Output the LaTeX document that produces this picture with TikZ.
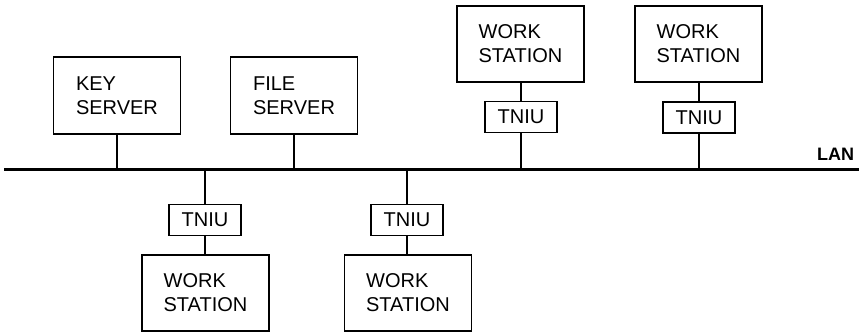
\documentclass[tikz,border=0pt]{standalone}
\usepackage{fontspec}
\setmainfont{Liberation Sans}
\usetikzlibrary{calc}
\tikzset{
  every picture/.style={x=1pt, y=-1pt, line width=2pt},
  unit/.style={draw, line width=1.8pt, align=left, inner sep=0pt, minimum width=127pt, minimum height=#1, font=\fontsize{20}{24}\selectfont},
  unit/.default=77pt,
  tniu/.style={draw, line width=1.6pt, inner sep=0pt, minimum width=72pt, minimum height=31pt, font=\fontsize{20}{24}\selectfont},
  stub/.style={line width=2.6pt},
  lan/.style={line width=3pt},
  lanlabel/.style={font=\fontsize{18}{20}\selectfont\bfseries, inner sep=0pt, anchor=south east},
}
\begin{document}
\begin{tikzpicture}
  \useasboundingbox (0,0) rectangle (859,332);
  \coordinate (lanL) at (4,169.5);
  \coordinate (lanR) at (859,169.5);
  \draw[lan] (lanL) -- (lanR);
  \node[lanlabel] (lanname) at (855,161) {LAN};

  \node[unit] (key) at (117,95.5) {KEY\\SERVER};
  \node[unit] (file) at (294,95.5) {FILE\\SERVER};

  \node[unit=76pt] (wsA) at (520.5,44) {WORK\\STATION};
  \node[tniu] (tniuA) at (521,117) {TNIU};
  \node[unit=76pt] (wsB) at (698.5,44) {WORK\\STATION};
  \node[tniu] (tniuB) at (699,117.5) {TNIU};

  \node[tniu] (tniuC) at (205,220) {TNIU};
  \node[unit=76pt] (wsC) at (205.5,293) {WORK\\STATION};
  \node[tniu] (tniuD) at (407,220) {TNIU};
  \node[unit=76pt] (wsD) at (408,293) {WORK\\STATION};

  \draw[stub] (key.south) -- (key.south |- lanL);
  \draw[stub] (file.south) -- (file.south |- lanL);
  \draw[stub] (tniuA.north) -- (tniuA.north |- wsA.south);
  \draw[stub] (tniuA.south) -- (tniuA.south |- lanL);
  \draw[stub] (tniuB.north) -- (tniuB.north |- wsB.south);
  \draw[stub] (tniuB.south) -- (tniuB.south |- lanL);
  \draw[stub] (tniuC.north) -- (tniuC.north |- lanL);
  \draw[stub] (tniuC.south) -- (tniuC.south |- wsC.north);
  \draw[stub] (tniuD.north) -- (tniuD.north |- lanL);
  \draw[stub] (tniuD.south) -- (tniuD.south |- wsD.north);
\end{tikzpicture}
\end{document}
